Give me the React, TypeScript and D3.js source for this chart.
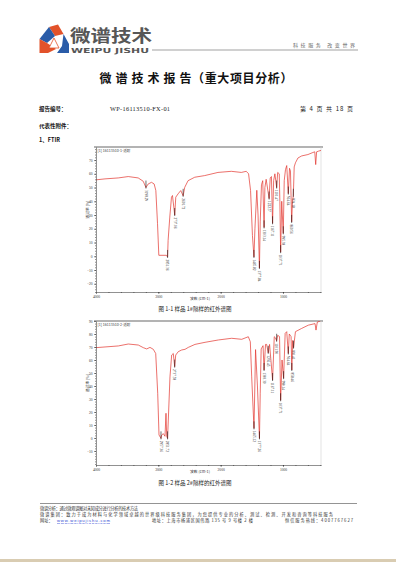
import React, { useEffect, useRef } from 'react'
import * as d3 from 'd3'

const cjk = '"Noto Sans CJK SC", sans-serif'
const serif = '"Liberation Serif", serif'

// wavenumber axis (cm-1)
const wnDomain = [4000, 390]
const wnMajor = [4000, 3000, 2000, 1000]
const wnMinor = d3.range(3800, 390, -200)

// sample 1# : [wavenumber, transmittance %]
const sample1: [number, number][] = [
  [4000, 55.6], [3856, 56.3], [3643, 57], [3483, 58], [3323, 57], [3243, 54.6], [3198.29, 50],
  [3163, 52.6], [3109, 53.8], [3067, 52.6], [3040, 47.8], [3013, 23.7], [2992, 0.7], [2870, 0.7],
  [2851.36, -0.5], [2843, 11.6], [2816, 28.5], [2789, 43], [2773, 44.2], [2737.06, 30], [2720, 43],
  [2683, 45.4], [2640, 47.8], [2601.72, 44], [2576, 50.2], [2523, 55], [2416, 57.5], [2256, 58.7],
  [2043, 61], [1829, 61.8], [1669, 61], [1589, 61.8], [1552, 60], [1520, 47.8], [1490, 15],
  [1465.82, -0.5], [1450, 20], [1420, 48], [1400, 30], [1377.84, -8.5], [1365, 25], [1345, 52],
  [1325, 55], [1303.14, 21], [1290, 50], [1270, 56], [1222.57, 42], [1205, 57], [1185, 58],
  [1167.11, 24], [1150, 55], [1130, 60], [1101.47, 50], [1085, 61], [1060, 60], [1050, 40],
  [1037.71, 3], [1020, 40], [1010, 30], [995.38, 16.7], [980, 55], [960, 63], [940, 66],
  [914.64, 45.6], [895, 64], [880, 62], [860.56, 25], [848, 40], [834.18, 44], [820, 65],
  [800, 68], [760, 71.5], [700, 73], [600, 74], [520, 75.5], [490, 76], [475, 66.7], [460, 76],
  [430, 76.5], [390, 77],
]
const peaks1 = [3198.29, 2851.36, 2737.06, 2601.72, 1465.82, 1377.84, 1303.14, 1222.57, 1167.11,
  1101.47, 1037.71, 995.38, 914.64, 860.56, 834.18]

// sample 2#
const sample2: [number, number][] = [
  [4000, 69.5], [3642, 70.8], [3482, 72.3], [3321, 71.5], [3241, 69.5], [3187, 68.5], [3134, 69.7],
  [3080, 68.2], [3042, 65], [3010, 34.4], [2989, 2.3], [2957.36, -0.3], [2946, 2.3], [2920, 3.3],
  [2893, 1.3], [2877, 19], [2866, 1.3], [2851.72, -0.3], [2840, 13.8], [2813, 47], [2786, 63.8],
  [2760, 65], [2737.58, 54.9], [2721, 63.8], [2680, 66.4], [2625, 67.7], [2572, 68.2], [2519, 69.7],
  [2412, 72], [2251, 73.6], [2037, 75.4], [1823, 76.7], [1662, 75.9], [1556, 77.9], [1524, 74],
  [1502, 47], [1465.12, 7.4], [1440, 68], [1410, 40], [1377.26, -0.3], [1365, 34.4], [1350, 68.5],
  [1320, 71], [1303.3, 52.3], [1280, 72], [1262, 72], [1236.45, 65.5], [1215, 72], [1167.11, 44.6],
  [1140, 77.9], [1120, 77], [1101.9, 74.8], [1085, 79], [1055, 78], [1037.71, 29], [1015, 60],
  [990.14, 46], [965, 80.5], [940, 81.8], [914.64, 65], [899, 80], [870, 78], [858.46, 52.3],
  [845, 75], [830.41, 69.5], [800, 81.8], [700, 84.3], [593, 86.8], [486, 88], [470, 83],
  [449, 89.2], [400, 90],
]
const peaks2 = [2957.36, 2851.72, 2737.58, 1465.12, 1377.26, 1303.3, 1236.45, 1167.11, 1101.9,
  1037.71, 990.14, 914.64, 858.46, 830.41]

const yTicks1 = d3.range(-20, 71, 10)
const yTicks2 = d3.range(-10, 91, 10)

type ChartOpts = {
  data: [number, number][]
  peaks: number[]
  top: number
  bottom: number
  yDomain: number[]
  yTicks: number[]
  legend: string
  id: string
}

const drawChart = (node: SVGGElement, o: ChartOpts) => {
  const g = d3.select(node)
  g.selectAll('*').remove()
  const left = 96, right = 321
  const x = d3.scaleLinear().domain(wnDomain).range([left, right])
  const y = d3.scaleLinear().domain(o.yDomain).range([o.bottom, o.top])
  const fmt = d3.format('d')

  // frame
  g.append('line').attr('x1', left - 2).attr('x2', right + 2).attr('y1', o.top).attr('y2', o.top)
    .attr('stroke', '#9a9a9a').attr('stroke-width', 1.4)
  g.append('line').attr('x1', right).attr('x2', right).attr('y1', o.top).attr('y2', o.bottom)
    .attr('stroke', '#d0d0d0').attr('stroke-width', 0.6)

  g.append('clipPath').attr('id', o.id).append('rect')
    .attr('x', left).attr('y', o.top).attr('width', right - left).attr('height', o.bottom - o.top)

  const line = d3.line<[number, number]>().x(d => x(d[0])).y(d => y(d[1]))
  g.append('path').attr('clip-path', `url(#${o.id})`)
    .attr('d', line(o.data)).attr('fill', 'none').attr('stroke', '#e3342c').attr('stroke-width', 0.7)

  // axes
  const minorY = d3.range(Math.ceil(o.yDomain[0] / 2) * 2, o.yDomain[1], 2)
  g.append('g').attr('transform', `translate(${left},0)`)
    .call(d3.axisLeft(y).tickValues(minorY).tickSize(1).tickFormat(() => ''))
    .call(a => a.select('.domain').remove())
  const gy = g.append('g').attr('transform', `translate(${left},0)`)
    .call(d3.axisLeft(y).tickValues(o.yTicks).tickSize(2).tickSizeOuter(0).tickPadding(1.5)
      .tickFormat(d => fmt(d as number)))
  gy.selectAll('text').attr('font-size', 3.6).attr('font-family', serif).attr('fill', '#333')

  g.append('g').attr('transform', `translate(0,${o.bottom})`)
    .call(d3.axisBottom(x).tickValues(wnMinor).tickSize(1).tickFormat(() => ''))
    .call(a => a.select('.domain').remove())
  const gx = g.append('g').attr('transform', `translate(0,${o.bottom})`)
    .call(d3.axisBottom(x).tickValues(wnMajor).tickSize(2).tickSizeOuter(0).tickPadding(1.5)
      .tickFormat(d => fmt(d as number)))
  gx.selectAll('text').attr('font-size', 3.6).attr('font-family', serif).attr('fill', '#333')
  g.selectAll('.domain, .tick line').attr('stroke', '#222').attr('stroke-width', 0.5)

  g.append('text').attr('x', 200).attr('y', o.bottom + 8).attr('font-size', 3.8)
    .attr('font-family', cjk).attr('fill', '#333').attr('text-anchor', 'middle').text('波数 (cm-1)')
  g.append('text').attr('transform', `translate(${left - 7},${(o.top + o.bottom) / 2 - 10}) rotate(-90)`)
    .attr('font-size', 3.8).attr('font-family', cjk).attr('fill', '#333').attr('text-anchor', 'middle')
    .text('透过率 [%]')
  g.append('text').attr('x', left + 1.5).attr('y', o.top + 4.5).attr('font-size', 3.6)
    .attr('font-family', cjk).attr('fill', '#444').text(o.legend)

  // peak markers
  o.peaks.forEach(p => {
    const pt = o.data.find(d => d[0] === p)
    if (!pt) return
    const px = x(pt[0]), py = y(pt[1])
    g.append('line').attr('x1', px).attr('x2', px).attr('y1', py - 7).attr('y2', py + 1)
      .attr('stroke', '#111').attr('stroke-width', 0.6)
    g.append('text').attr('transform', `translate(${px - 1.2},${py + 2.5}) rotate(90)`)
      .attr('font-size', 3.4).attr('font-family', serif).attr('fill', '#222').text(p.toFixed(2))
  })
}

const App = () => {
  const c1 = useRef<SVGGElement>(null)
  const c2 = useRef<SVGGElement>(null)

  useEffect(() => {
    if (c1.current) drawChart(c1.current, {
      data: sample1, peaks: peaks1, top: 147, bottom: 292, yDomain: [-26, 79.5],
      yTicks: yTicks1, legend: '[1] 16113510-1-透射', id: 'clip1',
    })
    if (c2.current) drawChart(c2.current, {
      data: sample2, peaks: peaks2, top: 321, bottom: 465, yDomain: [-20.8, 90],
      yTicks: yTicks2, legend: '[1] 16113510-2-透射', id: 'clip2',
    })
  }, [])

  return (
    <svg width={396} height={562} style={{ position: 'absolute', left: 0, top: 0, background: '#fff' }}>
      <rect width={396} height={562} fill="#fff" />
      {/* logo */}
      <polygon points="49,27 58,24.5 63.5,34 55,36" fill="#e2522a" />
      <polygon points="39.5,39 49,27 55,36 47,43" fill="#2a5ca8" />
      <polygon points="39.5,39 47,43 56,49 48,53 39.5,53" fill="#e2522a" />
      <polygon points="63.5,34 69,44 69,53 57,53 62,46" fill="#2a5ca8" />
      <polygon points="54,38 49,48 59,48" fill="#fff" stroke="#e2522a" strokeWidth={0.8} />
      <text x={70} y={42} fontSize={16.5} fontWeight={700} fontFamily={cjk} fill="#575757"
        textLength={82} lengthAdjust="spacingAndGlyphs">微谱技术</text>
      <text x={71} y={53} fontSize={7} fontWeight={700} fontFamily='"DejaVu Sans", sans-serif' fill="#575757"
        textLength={78} lengthAdjust="spacingAndGlyphs">WEIPU JISHU</text>
      <line x1={152} x2={358} y1={50} y2={50} stroke="#7a7a7a" strokeWidth={0.7} />
      <text x={293} y={47} fontSize={5} fontFamily={cjk} fill="#666" textLength={62}>科技服务  改变世界</text>

      <text x={196} y={83} fontSize={12} fontWeight={700} fontFamily={cjk} fill="#111" textAnchor="middle"
        textLength={193}>微 谱 技 术 报 告（重大项目分析）</text>

      <text x={39} y={110.5} fontSize={5.5} fontWeight={700} fontFamily={cjk} fill="#111">报告编号：</text>
      <text x={110} y={110.5} fontSize={6.3} fontFamily={serif} fill="#222" textLength={60}>WP-16113510-FX-01</text>
      <text x={300} y={110.5} fontSize={6} fontFamily={cjk} fill="#222" textLength={53}>第 4 页 共 18 页</text>
      <text x={39} y={127.5} fontSize={5.5} fontWeight={700} fontFamily={cjk} fill="#111">代表性附件：</text>
      <text x={39} y={142} fontSize={5.5} fontWeight={700} fontFamily={cjk} fill="#111">1、FTIR</text>

      <g ref={c1} />
      <text x={195} y={311} fontSize={5.5} fontFamily={cjk} fill="#222" textAnchor="middle">图 1-1  样品 1#隔样的红外谱图</text>
      <g ref={c2} />
      <text x={195} y={485} fontSize={5.5} fontFamily={cjk} fill="#222" textAnchor="middle">图 1-2  样品 2#隔样的红外谱图</text>

      {/* footer */}
      <line x1={40} x2={357} y1={503.5} y2={503.5} stroke="#666" strokeWidth={0.7} />
      <text x={40} y={510} fontSize={4.2} fontFamily={cjk} fill="#333" textLength={98}>微谱分析：通过微观谱图对未知成分进行分析的技术方法</text>
      <text x={40} y={516} fontSize={4.2} fontFamily={cjk} fill="#333" textLength={293}>微谱集团：致力于成为材料与化学领域卓越的世界级科技服务集团，为您提供专业的分析、测试、检测、开发和咨询等科技服务</text>
      <text x={40} y={522} fontSize={4.2} fontFamily={cjk} fill="#333">网址：</text>
      <text x={57} y={522} fontSize={4.2} fontFamily='"Liberation Sans", sans-serif' fill="#2a3fd0"
        textDecoration="underline" textLength={53}>www.weipujishu.com</text>
      <text x={152} y={522} fontSize={4.2} fontFamily={cjk} fill="#333" textLength={101}>地址：上海市杨浦区国伟路 135 号 9 号楼 2 楼</text>
      <text x={285} y={522} fontSize={4.2} fontFamily={cjk} fill="#333" textLength={68}>恒信服务热线：4007767627</text>
      <rect x={0} y={559} width={396} height={3} fill="#d9ccb2" />
    </svg>
  )
}

export default App
